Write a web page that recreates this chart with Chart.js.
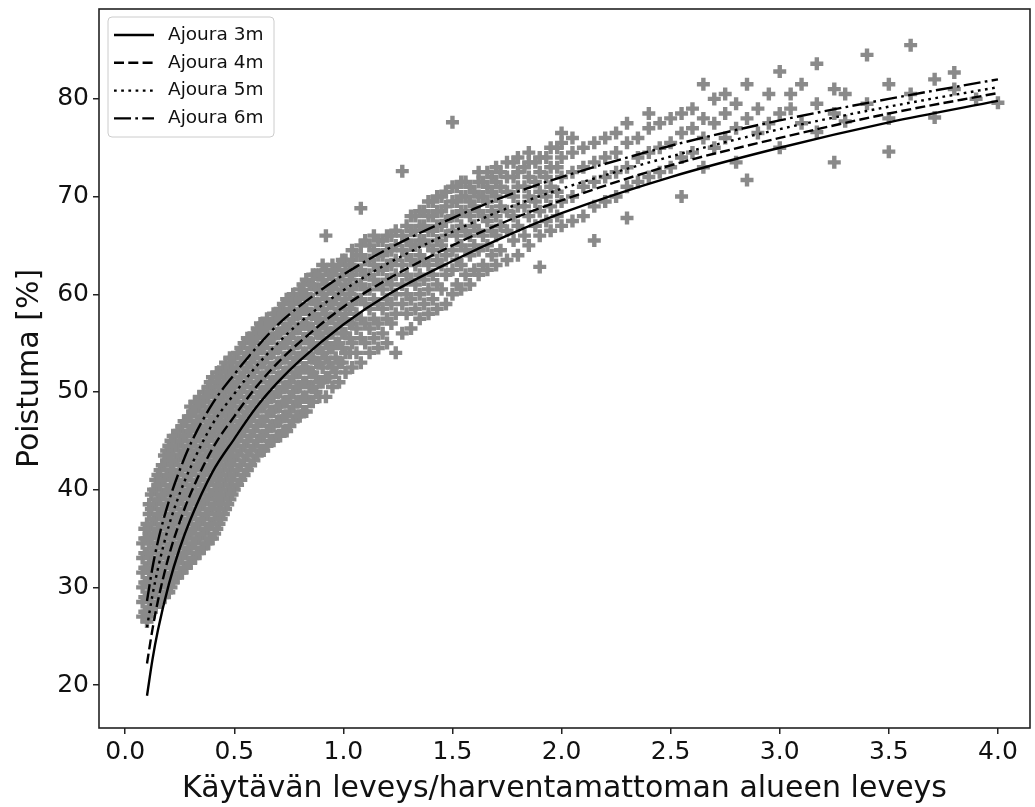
<!DOCTYPE html>
<html>
<head>
<meta charset="utf-8">
<script src="https://cdn.jsdelivr.net/npm/chart.js@4.4.1/dist/chart.umd.min.js"></script>
<style>
  html, body { margin: 0; padding: 0; background: #fff; }
  #wrap { width: 1035px; height: 807px; }
</style>
</head>
<body>
<div id="wrap"><canvas id="poistuma" width="1035" height="807"></canvas></div>
<script>
// Poistuma vs. käytävän leveys / harventamattoman alueen leveys
// Scatter of measurements + fitted curves for ajoura widths 3..6 m

const xTicks = [0.0, 0.5, 1.0, 1.5, 2.0, 2.5, 3.0, 3.5, 4.0];
const yTicks = [20, 30, 40, 50, 60, 70, 80];

const seriesLabels = ['Ajoura 3m', 'Ajoura 4m', 'Ajoura 5m', 'Ajoura 6m'];

// fitted curves
const curveX   = [0.1, 0.125, 0.15, 0.2, 0.25, 0.3, 0.4, 0.5, 0.6, 0.7, 0.8, 1.0, 1.2, 1.5, 1.75, 2.0, 2.5, 3.0, 3.5, 4.0];
const ajoura3m = [18.9, 22.6, 25.6, 30.3, 34.0, 37.0, 41.8, 45.2, 48.4, 51.0, 53.2, 56.9, 59.9, 63.4, 66.0, 68.3, 72.0, 75.0, 77.6, 79.8];
const ajoura4m = [22.2, 25.7, 28.6, 33.2, 36.7, 39.6, 44.2, 47.5, 50.5, 53.0, 55.1, 58.7, 61.5, 65.0, 67.5, 69.6, 73.2, 76.0, 78.5, 80.6];
const ajoura5m = [25.9, 29.2, 31.9, 36.3, 39.6, 42.3, 46.7, 49.8, 52.6, 55.0, 57.1, 60.4, 63.1, 66.4, 68.8, 70.8, 74.1, 76.9, 79.2, 81.2];
const ajoura6m = [28.6, 32.0, 34.7, 38.8, 42.0, 44.7, 48.8, 51.8, 54.5, 56.9, 58.8, 62.0, 64.6, 67.8, 70.1, 72.0, 75.2, 77.8, 80.0, 82.0];

// measured points, one entry per x column: [x, [y, y, ...]]
const measured = [
  [0.08, [27, 28.5, 30, 31.5, 33, 34.5]],
  [0.09, [27.5, 29, 30.5, 32, 33.5, 35, 36]],
  [0.10, [26.5, 27.5, 29, 30.5, 32, 33.5, 35, 36.5]],
  [0.11, [27, 28.5, 30, 31.5, 33, 34.5, 36, 37.5, 38.5]],
  [0.12, [27.5, 29, 30.5, 32, 33.5, 35, 36.5, 38, 39.5]],
  [0.13, [28, 29.5, 31, 32.5, 34, 35.5, 37, 38.5, 40]],
  [0.14, [28, 29.5, 31, 32.5, 34, 35.5, 37, 38.5, 40, 41]],
  [0.15, [28.5, 30, 31.5, 33, 34.5, 36, 37.5, 39, 40.5, 41.5]],
  [0.16, [28.5, 30, 31.5, 33, 34.5, 36, 37.5, 39, 40.5, 42]],
  [0.17, [29, 30.5, 32, 33.5, 35, 36.5, 38, 39.5, 41, 42.5]],
  [0.18, [29, 30.5, 32, 33.5, 35, 36.5, 38, 39.5, 41, 42.5, 43.5]],
  [0.19, [29.5, 31, 32.5, 34, 35.5, 37, 38.5, 40, 41.5, 43, 44]],
  [0.20, [29.5, 31, 32.5, 34, 35.5, 37, 38.5, 40, 41.5, 43, 44.5]],
  [0.21, [30, 31.5, 33, 34.5, 36, 37.5, 39, 40.5, 42, 43.5, 45]],
  [0.22, [30.5, 32, 33.5, 35, 36.5, 38, 39.5, 41, 42.5, 44, 45.5]],
  [0.23, [31, 32.5, 34, 35.5, 37, 38.5, 40, 41.5, 43, 44.5, 45.5]],
  [0.24, [31, 32.5, 34, 35.5, 37, 38.5, 40, 41.5, 43, 44.5, 46]],
  [0.25, [31.5, 33, 34.5, 36, 37.5, 39, 40.5, 42, 43.5, 45, 46]],
  [0.26, [31.5, 33, 34.5, 36, 37.5, 39, 40.5, 42, 43.5, 45, 46.5]],
  [0.27, [32, 33.5, 35, 36.5, 38, 39.5, 41, 42.5, 44, 45.5, 47]],
  [0.28, [32, 33.5, 35, 36.5, 38, 39.5, 41, 42.5, 44, 45.5, 47]],
  [0.29, [32.5, 34, 35.5, 37, 38.5, 40, 41.5, 43, 44.5, 46, 47.5]],
  [0.30, [32.5, 34, 35.5, 37, 38.5, 40, 41.5, 43, 44.5, 46, 47.5, 48.5]],
  [0.31, [33, 34.5, 36, 37.5, 39, 40.5, 42, 43.5, 45, 46.5, 48]],
  [0.32, [33, 34.5, 36, 37.5, 39, 40.5, 42, 43.5, 45, 46.5, 48, 49]],
  [0.33, [33.5, 35, 36.5, 38, 39.5, 41, 42.5, 44, 45.5, 47, 48.5]],
  [0.34, [33.5, 35, 36.5, 38, 39.5, 41, 42.5, 44, 45.5, 47, 48.5, 49.5]],
  [0.35, [34, 35.5, 37, 38.5, 40, 41.5, 43, 44.5, 46, 47.5, 49]],
  [0.36, [34, 35.5, 37, 38.5, 40, 41.5, 43, 44.5, 46, 47.5, 49, 50]],
  [0.37, [34.5, 36, 37.5, 39, 40.5, 42, 43.5, 45, 46.5, 48, 49.5]],
  [0.38, [34.5, 36, 37.5, 39, 40.5, 42, 43.5, 45, 46.5, 48, 49.5, 50.5]],
  [0.39, [35, 36.5, 38, 39.5, 41, 42.5, 44, 45.5, 47, 48.5, 50, 51]],
  [0.40, [35, 36.5, 38, 39.5, 41, 42.5, 44, 45.5, 47, 48.5, 50, 51.5]],
  [0.41, [35.5, 37, 38.5, 40, 41.5, 43, 44.5, 46, 47.5, 49, 50.5]],
  [0.42, [36, 37.5, 39, 40.5, 42, 43.5, 45, 46.5, 48, 49.5, 51, 52]],
  [0.43, [36.5, 38, 39.5, 41, 42.5, 44, 45.5, 47, 48.5, 50, 51.5]],
  [0.44, [37, 38.5, 40, 41.5, 43, 44.5, 46, 47.5, 49, 50.5, 52]],
  [0.45, [37.5, 39, 40.5, 42, 43.5, 45, 46.5, 48, 49.5, 51, 52.5]],
  [0.46, [38, 39.5, 41, 42.5, 44, 45.5, 47, 48.5, 50, 51.5, 53]],
  [0.47, [38.5, 40, 41.5, 43, 44.5, 46, 47.5, 49, 50.5, 52]],
  [0.48, [39, 40.5, 42, 43.5, 45, 46.5, 48, 49.5, 51, 52.5, 53.5]],
  [0.49, [39.5, 41, 42.5, 44, 45.5, 47, 48.5, 50, 51.5, 53]],
  [0.50, [40, 41.5, 43, 44.5, 46, 47.5, 49, 50.5, 52, 53.5]],
  [0.515, [40.5, 42, 43.5, 45, 46.5, 48, 49.5, 51, 52.5, 54]],
  [0.53, [41, 42.5, 44, 45.5, 47, 48.5, 50, 51.5, 53, 54.5]],
  [0.545, [41.5, 43, 44.5, 46, 47.5, 49, 50.5, 52, 53.5, 55]],
  [0.56, [42, 43.5, 45, 46.5, 48, 49.5, 51, 52.5, 54, 55.5]],
  [0.575, [42.5, 44, 45.5, 47, 48.5, 50, 51.5, 53, 54.5, 55.5]],
  [0.59, [43, 44.5, 46, 47.5, 49, 50.5, 52, 53.5, 55, 56]],
  [0.605, [43.5, 45, 46.5, 48, 49.5, 51, 52.5, 54, 55.5, 56.5]],
  [0.62, [44, 45.5, 47, 48.5, 50, 51.5, 53, 54.5, 56, 57]],
  [0.635, [44, 45.5, 47, 48.5, 50, 51.5, 53, 54.5, 56, 57]],
  [0.65, [44.5, 46, 47.5, 49, 50.5, 52, 53.5, 55, 56.5, 57.5]],
  [0.665, [45, 46.5, 48, 49.5, 51, 52.5, 54, 55.5, 57]],
  [0.68, [45, 46.5, 48, 49.5, 51, 52.5, 54, 55.5, 57, 58]],
  [0.695, [45.5, 47, 48.5, 50, 51.5, 53, 54.5, 56, 57.5, 58]],
  [0.71, [45.5, 47, 48.5, 50, 51.5, 53, 54.5, 56, 57.5, 58.5]],
  [0.725, [46, 47.5, 49, 50.5, 52, 53.5, 55, 56.5, 58, 59]],
  [0.74, [46, 47.5, 49, 50.5, 52, 53.5, 55, 56.5, 58, 59.5]],
  [0.755, [46.5, 48, 49.5, 51, 52.5, 54, 55.5, 57, 58.5, 59.5]],
  [0.77, [47, 48.5, 50, 51.5, 53, 54.5, 56, 57.5, 59, 60]],
  [0.785, [47.5, 49, 50.5, 52, 53.5, 55, 56.5, 58, 59.5]],
  [0.80, [47.5, 49, 50.5, 52, 53.5, 55, 56.5, 58, 59.5, 60.5]],
  [0.815, [48, 49.5, 51, 52.5, 54, 55.5, 57, 58.5, 60, 61]],
  [0.83, [48, 49.5, 51, 52.5, 54, 55.5, 57, 58.5, 60, 61.5]],
  [0.845, [49, 50.5, 52, 53.5, 55, 56.5, 58, 59.5, 61]],
  [0.86, [49, 50.5, 52, 53.5, 55, 56.5, 58, 59.5, 61, 62]],
  [0.875, [50, 51.5, 53, 54.5, 56, 57.5, 59, 60.5, 62]],
  [0.89, [49.5, 51, 53, 54.5, 56, 57.5, 59, 60.5, 62]],
  [0.905, [51, 52.5, 54, 55.5, 57, 58.5, 60, 61.5, 63]],
  [0.92, [49.5, 51.5, 53.5, 55, 56.5, 58, 59.5, 61, 62.5, 66]],
  [0.935, [51.5, 53, 54.5, 56, 57.5, 59, 60.5, 62]],
  [0.95, [50.5, 52.5, 54.5, 56, 57.5, 59, 60.5, 62, 63]],
  [0.965, [52, 53.5, 55, 56.5, 58, 59.5, 61, 62.5]],
  [0.98, [51, 53, 55, 57, 58.5, 60, 61.5, 63]],
  [0.995, [53, 54.5, 56, 57.5, 59, 60.5, 62, 63.5]],
  [1.01, [52, 54, 56, 58, 59.5, 61, 62.5, 63.5]],
  [1.03, [54, 55.5, 57, 58.5, 60, 61.5, 63]],
  [1.04, [52.5, 55, 57, 59, 60.5, 62, 63.5, 64.5]],
  [1.06, [54, 56.5, 58, 59.5, 61, 62.5, 64]],
  [1.08, [53, 55.5, 57.5, 59.5, 61, 62.5, 64, 65, 68.8]],
  [1.10, [55, 57, 59, 60.5, 62, 63.5, 65.5]],
  [1.12, [54, 56.5, 58.5, 60.5, 62, 63.5, 65]],
  [1.14, [55.5, 57.5, 59.5, 61.5, 63, 64.5, 66]],
  [1.16, [54.5, 57, 59, 61, 62.5, 64, 65.5]],
  [1.18, [56, 58.5, 60.5, 62.5, 64, 65.5]],
  [1.20, [55, 57.5, 59.5, 61.5, 63, 64.5, 66]],
  [1.22, [57, 59, 61, 63, 64.5, 66]],
  [1.24, [54, 58, 60, 62, 63.5, 65, 66.5]],
  [1.27, [56, 59, 61, 63, 64.5, 66, 72.6]],
  [1.29, [58, 60, 62, 64, 65.5, 67]],
  [1.31, [56.5, 59.5, 61.5, 63.5, 65, 66.5, 68]],
  [1.33, [58.5, 61, 63, 65, 66.5, 68]],
  [1.35, [57.5, 60, 62, 64, 65.5, 67, 68.5]],
  [1.37, [59, 61.5, 63.5, 65.5, 67, 68.5]],
  [1.39, [58, 60.5, 63, 65, 66.5, 68, 69.5]],
  [1.41, [59.5, 62, 64.5, 66.5, 68, 69.5]],
  [1.43, [58.5, 61, 63.5, 65.5, 67, 68.5, 70]],
  [1.45, [60.5, 63, 65, 67, 68.5, 70]],
  [1.47, [59, 62, 64, 66, 67.5, 69, 70.5]],
  [1.50, [60, 62.5, 64.5, 66.5, 68, 69.5, 71, 77.6]],
  [1.52, [61, 63.5, 66, 68, 69.5, 71]],
  [1.54, [60.5, 63, 65, 67, 68.5, 70, 71.5]],
  [1.56, [62, 64.5, 66.5, 68.5, 70, 71.5]],
  [1.58, [61, 64, 66, 68, 69.5, 71]],
  [1.60, [62.5, 65, 67, 69, 70.5]],
  [1.62, [62, 64.5, 66.5, 68.5, 70, 71.5, 72.5]],
  [1.64, [63, 66, 68, 70, 71.5]],
  [1.66, [62.5, 65, 67.5, 69.5, 71, 72.5]],
  [1.68, [64, 66.5, 68.5, 70.5, 72]],
  [1.70, [63, 66, 68, 70, 71.5, 73]],
  [1.72, [64.5, 67, 69, 71, 72.5]],
  [1.75, [63.5, 66.5, 68.5, 70.5, 72, 73.5]],
  [1.78, [65.5, 68, 70, 72, 73.5]],
  [1.80, [64, 67, 69, 71, 72.5, 74]],
  [1.83, [66, 69, 71, 73]],
  [1.85, [65, 68, 70, 72, 73.5, 74.5]],
  [1.88, [67, 69.5, 71.5, 73.5]],
  [1.90, [62.8, 66, 68.5, 70.5, 72.5, 74]],
  [1.93, [67.5, 70, 72, 74]],
  [1.95, [66.5, 69, 71, 73, 75]],
  [1.98, [68, 70.5, 73, 75]],
  [2.00, [67, 69.5, 72, 74, 75.5, 76.5]],
  [2.05, [67.5, 70, 72.5, 74.5, 76]],
  [2.10, [68, 71, 73, 75]],
  [2.15, [65.5, 69, 71.5, 73.5, 75.5]],
  [2.20, [69.5, 72, 74, 76]],
  [2.25, [70, 72.5, 74.5, 76.5]],
  [2.30, [67.8, 71, 73, 75.5, 77.5]],
  [2.35, [71.5, 74, 76]],
  [2.40, [72, 74.5, 77, 78.5]],
  [2.45, [72.5, 75, 77.5]],
  [2.50, [73, 75.5, 78]],
  [2.55, [70, 74, 76.5, 78.5]],
  [2.60, [74.5, 77, 79]],
  [2.65, [73, 76, 78, 81.5]],
  [2.70, [75, 77.5, 80]],
  [2.75, [76, 78.5, 80.5]],
  [2.80, [73.5, 77, 79.5]],
  [2.85, [71.7, 78, 81.5]],
  [2.90, [76.5, 79]],
  [2.95, [77.5, 80.5]],
  [3.00, [75, 78.5, 82.8]],
  [3.05, [79, 80.5]],
  [3.10, [77.5, 81.5]],
  [3.17, [76.6, 79.5, 83.6]],
  [3.25, [73.5, 78.5, 81]],
  [3.30, [77.7, 80.5]],
  [3.40, [79.5, 84.5]],
  [3.50, [74.6, 78, 81.5]],
  [3.60, [80.5, 85.5]],
  [3.71, [78.1, 82]],
  [3.80, [81, 82.7]],
  [3.90, [80]],
  [4.00, [79.6]],
];

const FONT = '"DejaVu Sans", Verdana, sans-serif';
const TEXT = '#111';

const curves = [ajoura3m, ajoura4m, ajoura5m, ajoura6m];
const dashes = [[], [10, 4.3], [2.7, 4.5], [17, 4.3, 2.7, 4.3]];

const lineSets = curves.map((ys, i) => ({
    type: 'line',
    label: seriesLabels[i],
    data: curveX.map((x, k) => ({ x: x, y: ys[k] })),
    borderColor: '#000',
    borderWidth: 2.4,
    borderDash: dashes[i],
    pointRadius: 0,
    fill: false,
    cubicInterpolationMode: 'monotone',
    order: 1,
}));

const pointSet = {
    type: 'scatter',
    label: 'mittaukset',
    data: measured.flatMap(([x, ys]) => ys.map(y => ({ x: x, y: y }))),
    pointStyle: 'cross',
    pointRadius: 6.5,
    pointHoverRadius: 6.5,
    pointBorderWidth: 4.4,
    borderColor: '#8a8a8a',
    backgroundColor: '#8a8a8a',
    order: 5,
};

// black box round the plot area, like matplotlib spines
const framePlugin = {
    id: 'frame',
    afterDraw(chart) {
        const { ctx, chartArea: a } = chart;
        ctx.save();
        ctx.strokeStyle = '#222';
        ctx.lineWidth = 1.6;
        ctx.strokeRect(a.left, a.top, a.right - a.left, a.bottom - a.top);
        ctx.restore();
    },
};

// legend box in the upper-left corner
const legendPlugin = {
    id: 'boxLegend',
    afterDraw(chart) {
        const { ctx, chartArea: a } = chart;
        const x0 = a.left + 9, y0 = a.top + 8, w = 166, h = 120;
        ctx.save();
        ctx.beginPath();
        ctx.roundRect(x0, y0, w, h, 4);
        ctx.fillStyle = 'rgba(255,255,255,0.8)';
        ctx.fill();
        ctx.strokeStyle = '#cccccc';
        ctx.lineWidth = 1;
        ctx.stroke();
        ctx.font = '18.5px ' + FONT;
        ctx.textBaseline = 'middle';
        ctx.fillStyle = TEXT;
        lineSets.forEach((ds, i) => {
            const cy = y0 + 18 + i * 27.8;
            ctx.beginPath();
            ctx.setLineDash(ds.borderDash);
            ctx.strokeStyle = '#000';
            ctx.lineWidth = ds.borderWidth;
            ctx.moveTo(x0 + 6, cy);
            ctx.lineTo(x0 + 46, cy);
            ctx.stroke();
            ctx.setLineDash([]);
            ctx.fillText(ds.label, x0 + 60, cy);
        });
        ctx.restore();
    },
};

const tickGrid = {
    display: true,
    drawOnChartArea: false,
    drawTicks: true,
    tickLength: 6,
    color: '#222',
    lineWidth: 1.5,
};

new Chart(document.getElementById('poistuma'), {
    type: 'scatter',
    data: { datasets: [...lineSets, pointSet] },
    options: {
        responsive: false,
        animation: false,
        devicePixelRatio: 1,
        layout: { autoPadding: false, padding: { left: 0, right: 5, top: 9, bottom: 0 } },
        plugins: {
            legend: { display: false },
            tooltip: { enabled: false },
        },
        scales: {
            x: {
                type: 'linear',
                min: -0.12,
                max: 4.147,
                afterBuildTicks: s => { s.ticks = xTicks.map(v => ({ value: v })); },
                afterFit: s => { s.height = 79; s.paddingLeft = 0; s.paddingRight = 0; },
                ticks: {
                    callback: v => v.toFixed(1),
                    font: { family: FONT, size: 25 },
                    color: TEXT,
                    padding: 3,
                    maxRotation: 0,
                },
                grid: tickGrid,
                border: { display: false },
                title: {
                    display: true,
                    text: 'Käytävän leveys/harventamattoman alueen leveys',
                    font: { family: FONT, size: 30 },
                    color: TEXT,
                    padding: { top: 0, bottom: 0 },
                },
            },
            y: {
                type: 'linear',
                min: 15.6,
                max: 89.2,
                afterBuildTicks: s => { s.ticks = yTicks.map(v => ({ value: v })); },
                afterFit: s => { s.width = 99; s.paddingTop = 0; s.paddingBottom = 0; },
                ticks: {
                    font: { family: FONT, size: 25 },
                    color: TEXT,
                    padding: 4,
                },
                grid: tickGrid,
                border: { display: false },
                title: {
                    display: true,
                    text: 'Poistuma [%]',
                    font: { family: FONT, size: 30 },
                    color: TEXT,
                    padding: { top: 12, bottom: 0 },
                },
            },
        },
    },
    plugins: [framePlugin, legendPlugin],
});
</script>
</body>
</html>
